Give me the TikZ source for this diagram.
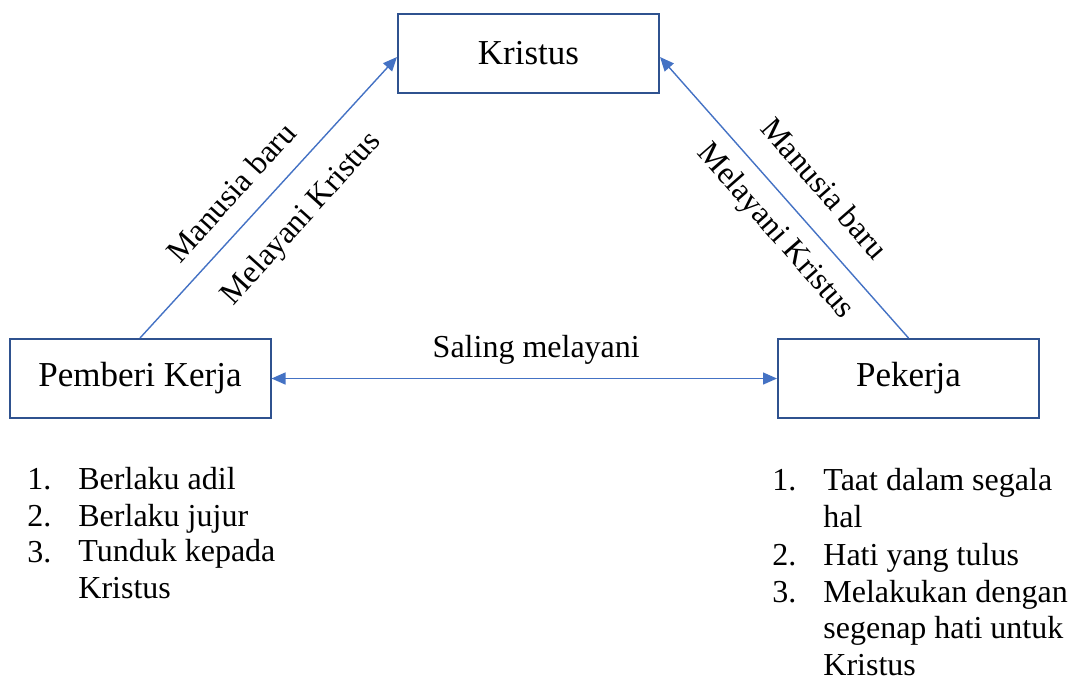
\documentclass[tikz,border=0pt]{standalone}
\usepackage{fontspec}
\setmainfont{Liberation Serif}
\usepackage{xcolor}
\usetikzlibrary{arrows.meta}
\definecolor{boxblue}{HTML}{2F528F}
\definecolor{lineblue}{HTML}{4472C4}
\newcommand{\boxwidth}{130.5pt}
\newcommand{\boxheight}{39.5pt}

\begin{document}
\begin{tikzpicture}[x=0.5pt,y=-0.5pt,
    lbl/.style={inner sep=0pt,font=\fontsize{16}{18.25}\selectfont},
    itemtext/.style={lbl,anchor=base west,align=left}]
                \useasboundingbox (0,0) rectangle (1074,677);
                \begin{scope}[every node/.style={rectangle,draw=boxblue,line width=1pt,
                    minimum width=\boxwidth,minimum height=\boxheight,
                    font=\fontsize{17.5}{21}\selectfont}]
                    \node (K) at (528.5,53.5) {Kristus};
                    \node (PK) at (140,378.5) {Pemberi Kerja};
                    \node (P) at (908.5,378.5) {Pekerja};
                \end{scope}

                \begin{scope}[>={Triangle[length=7pt,width=6pt,lineblue]},
                    every edge/.style={draw=lineblue,line width=0.7pt}]
                    \path [->] (PK.north) edge node {} ([yshift=-1.75pt]K.west);
                    \path [->] (P.north) edge node {} ([yshift=-1.75pt]K.east);
                    \path [<->] (PK) edge node[lbl,above=6.5pt,xshift=6pt] (saling) {Saling melayani} (P);
                \end{scope}

                % labels along the slanted arrows
                \node[lbl,rotate=47.9] (baruL) at (231,192) {Manusia baru};
                \node[lbl,rotate=47.9] (layaniL) at (302,219) {Melayani Kristus};
                \node[lbl,rotate=-48.8] (baruR) at (825,188) {Manusia baru};
                \node[lbl,rotate=-48.8] (layaniR) at (775,232) {Melayani Kristus};

                % list under Pemberi Kerja (base = last line)
                \node[itemtext] (l1) at (27,489) {1.};
                \node[itemtext] (lt1) at (78,489) {Berlaku adil};
                \node[itemtext] (l2) at (27,526) {2.};
                \node[itemtext] (lt2) at (78,526) {Berlaku jujur};
                \node[itemtext] (l3) at (27,562) {3.};
                \node[itemtext] (lt3) at (78,598) {Tunduk kepada\\Kristus};

                % list under Pekerja
                \node[itemtext] (r1) at (772,490) {1.};
                \node[itemtext] (rt1) at (823,527) {Taat dalam segala\\hal};
                \node[itemtext] (r2) at (772,565) {2.};
                \node[itemtext] (rt2) at (823,565) {Hati yang tulus};
                \node[itemtext] (r3) at (772,602) {3.};
                \node[itemtext] (rt3) at (823,675) {Melakukan dengan\\segenap hati untuk\\Kristus};
            \end{tikzpicture}
\end{document}
